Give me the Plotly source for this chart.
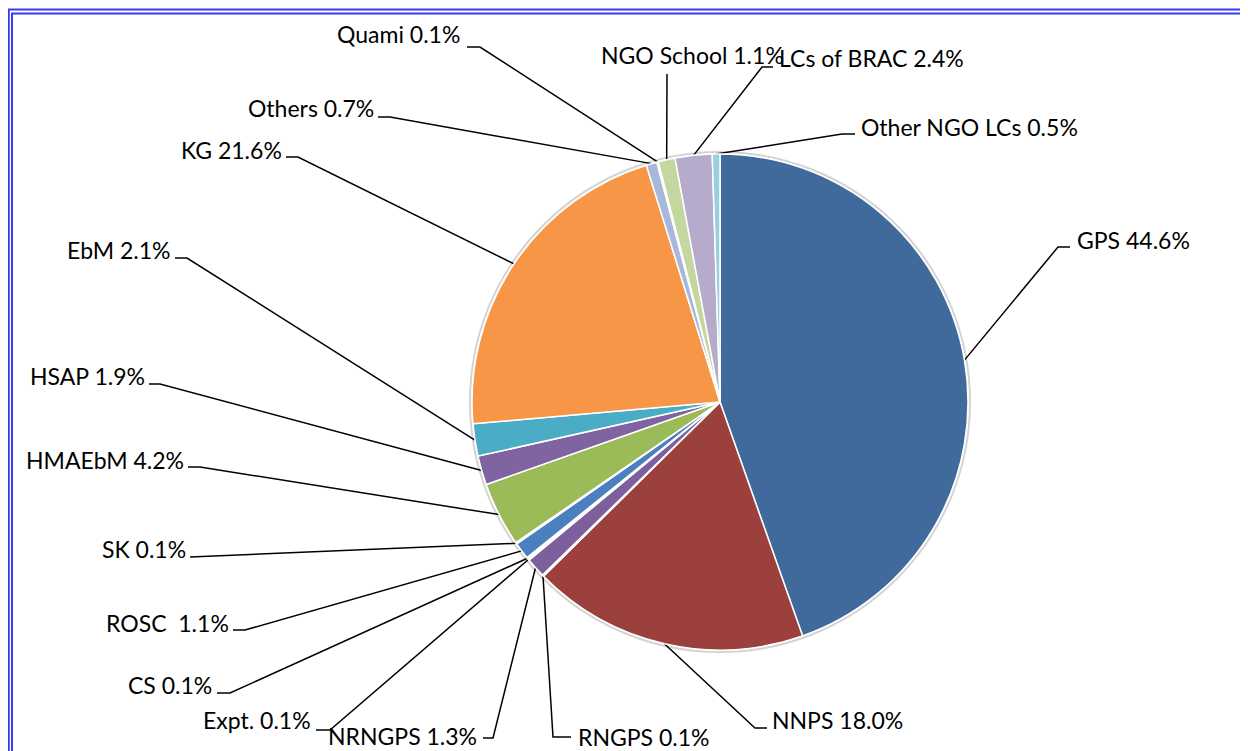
import math
import plotly.graph_objects as go

# ---- data ----
categories = ["GPS", "NNPS", "RNGPS", "NRNGPS", "Expt.", "CS", "ROSC\u00a0", "SK",
              "HMAEbM", "HSAP", "EbM", "KG", "Others", "Quami", "NGO School",
              "LCs of BRAC", "Other NGO LCs"]
shares = [44.6, 18.0, 0.1, 1.3, 0.1, 0.1, 1.1, 0.1, 4.2, 1.9, 2.1, 21.6, 0.7, 0.1, 1.1, 2.4, 0.5]
slice_colors = ["#406A9B", "#9C403D", "#7E9A48", "#7D5F9E", "#3A8FA6", "#CE7A36",
                "#4A7FC0", "#C0504D", "#9BBB59", "#8064A2", "#4BACC6", "#F79646",
                "#A7B8DA", "#D9A3A2", "#C4D7A0", "#B7ABCB", "#9BCFDE"]

# ---- layout constants (page pixels) ----
W, H = 1248, 751
OFF = 8                      # default body margin of the html page
FW, FH = W - OFF, H - OFF    # figure size
CX, CY, R = 720, 402, 248
FONT = "Lato"
FS = 23

# label placement: (text x, text anchor, text center y, elbow x, elbow y, end x, end y)
label_pos = [
    (1075, "left", 240, 1058, 247, 1070, 247),   # GPS
    (770, "left", 720, 755, 728, 767, 728),      # NNPS
    (576, "left", 737, 553, 737, 571, 737),      # RNGPS
    (479, "right", 736, 493, 738, 483, 738),     # NRNGPS
    (313, "right", 720, 330, 730, 316, 730),     # Expt.
    (214, "right", 685, 230, 693, 217, 693),     # CS
    (231, "right", 623, 245, 630, 233, 630),     # ROSC
    (188, "right", 549, 202, 557, 190, 557),     # SK
    (186, "right", 460, 200, 467, 188, 467),     # HMAEbM
    (147, "right", 376, 160, 384, 149, 384),     # HSAP
    (173, "right", 250, 187, 258, 175, 258),     # EbM
    (284, "right", 150, 298, 157, 286, 157),     # KG
    (376, "right", 108, 390, 117, 378, 117),     # Others
    (462, "right", 34, 480, 47, 467, 47),        # Quami
    (599, "left", 55, 667, 74, 667, 74),         # NGO School
    (777, "left", 58, 762, 67, 773, 67),         # LCs of BRAC
    (859, "left", 127, 842, 134, 855, 134),      # Other NGO LCs
]

fig = go.Figure()

shapes = [
    # faint shadow ring round the pie
    dict(type="circle", xref="x", yref="y", x0=CX - R - 2, x1=CX + R + 2,
         y0=CY - R - 2, y1=CY + R + 2, line=dict(color="#D4D4D4", width=2),
         fillcolor="rgba(0,0,0,0)", layer="below"),
    # double blue frame
    dict(type="rect", xref="x", yref="y", x0=8.8, y0=9.5, x1=W + 20, y1=H + 20,
         line=dict(color="#3A3AF2", width=2)),
    dict(type="rect", xref="x", yref="y", x0=12, y0=13.5, x1=W + 20, y1=H + 20,
         line=dict(color="#3A3AF2", width=2)),
]

fig.add_trace(go.Pie(
    labels=categories, values=shares, sort=False, direction="clockwise", rotation=0,
    marker=dict(colors=slice_colors, line=dict(color="white", width=1.5)),
    textinfo="none", hoverinfo="label+percent", showlegend=False,
    domain=dict(x=[(CX - R - OFF) / FW, (CX + R - OFF) / FW],
                y=[1 - (CY + R - OFF) / FH, 1 - (CY - R - OFF) / FH]),
))

total = sum(shares)
cum = 0.0
annotations = []
for name, val, pos in zip(categories, shares, label_pos):
    mid = (cum + val / 2) / total * 2 * math.pi
    cum += val
    sx = CX + R * math.sin(mid)
    sy = CY - R * math.cos(mid)
    tx, anchor, ty, ex, ey, hx, hy = pos
    fig.add_trace(go.Scatter(
        x=[sx, ex, hx], y=[sy, ey, hy], mode="lines",
        line=dict(color="black", width=1.5), hoverinfo="skip", showlegend=False,
    ))
    annotations.append(dict(
        x=tx, y=ty, xref="x", yref="y", xanchor=anchor, yanchor="middle",
        text=f"{name} {val:.1f}%", showarrow=False,
        font=dict(family=FONT, size=FS, color="black"),
    ))

fig.update_layout(
    width=FW, height=FH, margin=dict(l=0, r=0, t=0, b=0),
    paper_bgcolor="white", plot_bgcolor="white",
    xaxis=dict(range=[OFF, W], visible=False, fixedrange=True),
    yaxis=dict(range=[H, OFF], visible=False, fixedrange=True),
    shapes=shapes, annotations=annotations, showlegend=False,
)

fig.write_html("out.html")
